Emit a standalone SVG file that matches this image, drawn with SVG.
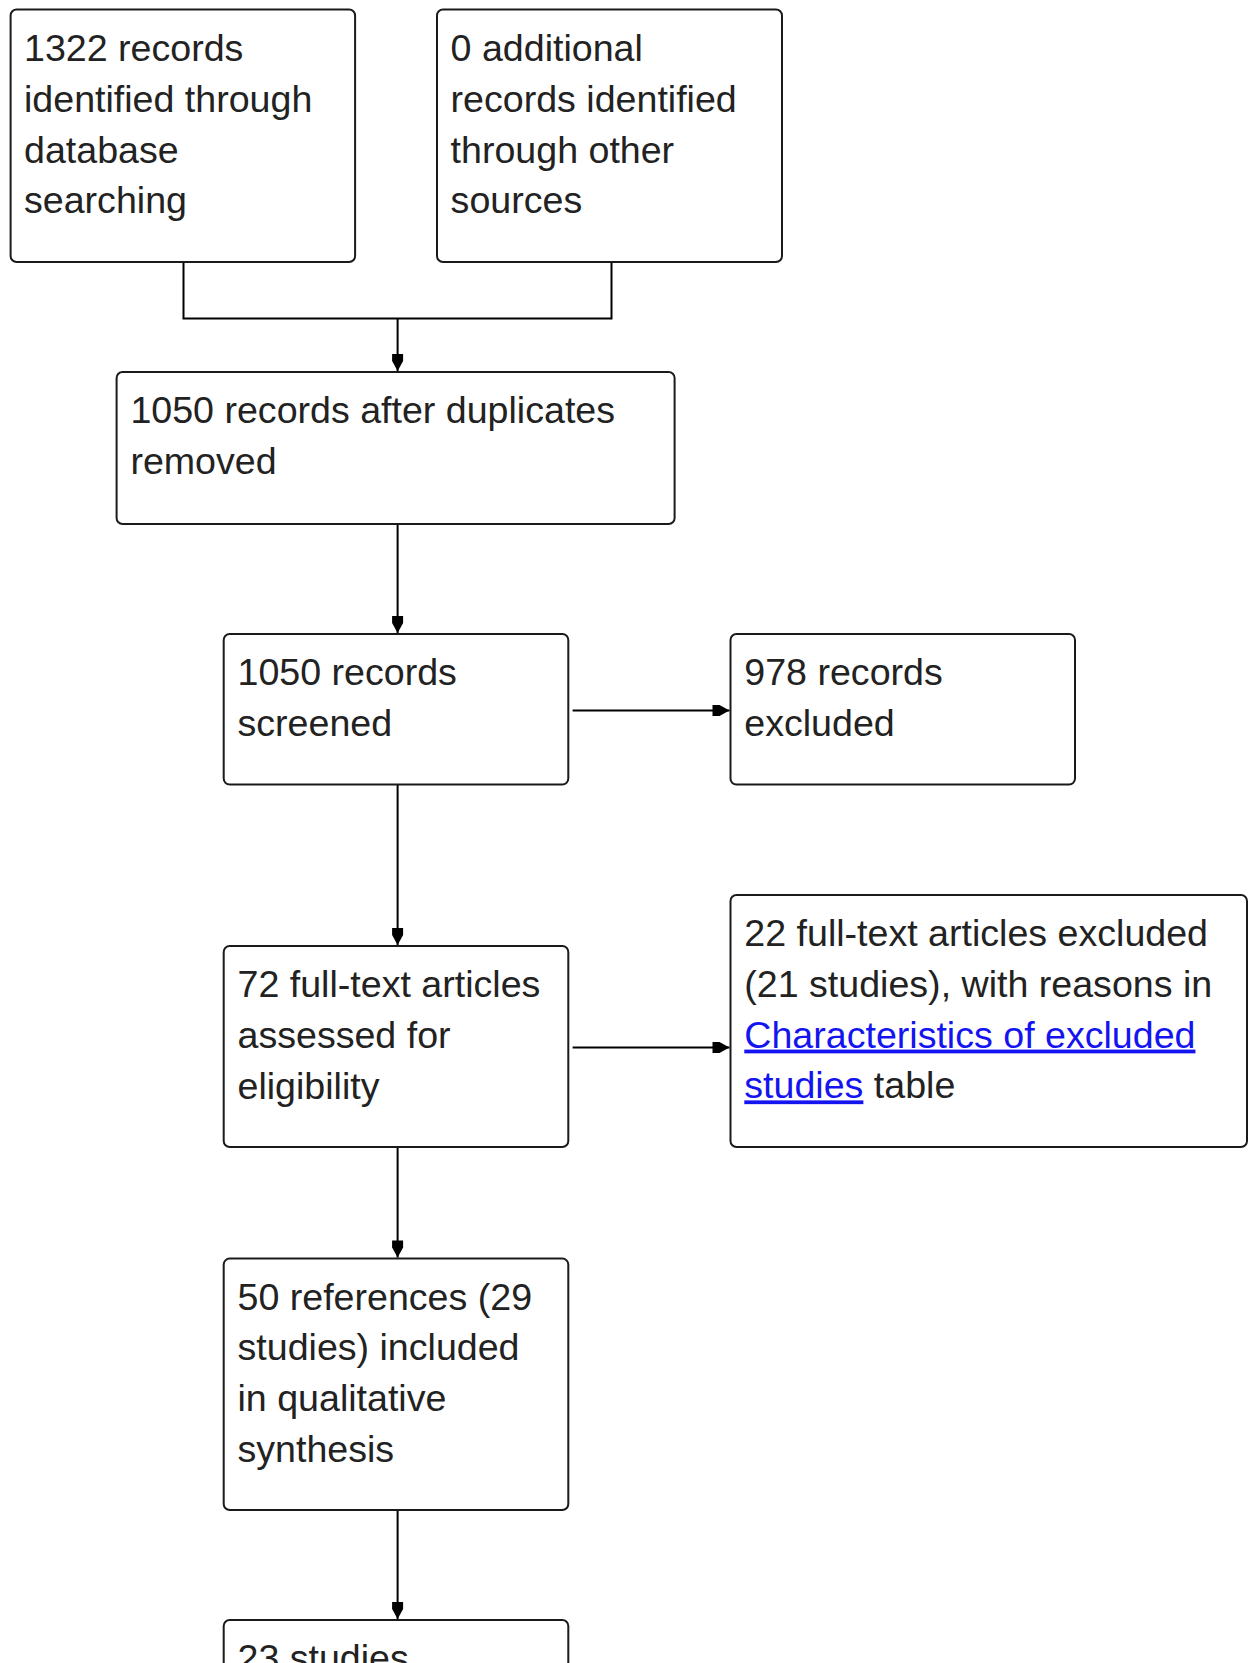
<svg xmlns="http://www.w3.org/2000/svg" width="1248" height="1663" viewBox="0 0 1248 1663">
<style>
.box{fill:#fff;stroke:#1a1a1a;stroke-width:2}
.t{font-family:"Liberation Sans",Arial,sans-serif;font-size:37.6px;fill:#222}
.link{fill:#1414f0;text-decoration:underline}
.c{fill:none;stroke:#000;stroke-width:2}
</style>
<defs>
<marker id="ah" markerUnits="userSpaceOnUse" viewBox="-18 -8 18 16" refX="0" refY="0" markerWidth="18" markerHeight="16" orient="auto">
<path d="M0,0 L-10,-5.5 L-17,-5.5 L-17,5.5 L-10,5.5 Z" fill="#000"/>
</marker>
</defs>
<rect width="1248" height="1663" fill="#fff"/>
<g id="connectors">
<path class="c" d="M183.5,262 V318.5 H611.5 V262"/>
<path class="c" d="M397.6,318.5 V371" marker-end="url(#ah)"/>
<path class="c" d="M397.6,524 V633" marker-end="url(#ah)"/>
<path class="c" d="M572.6,710.4 H729.5" marker-end="url(#ah)"/>
<path class="c" d="M397.6,784.6 V945" marker-end="url(#ah)"/>
<path class="c" d="M572.6,1047.6 H729.5" marker-end="url(#ah)"/>
<path class="c" d="M397.6,1147 V1257.6" marker-end="url(#ah)"/>
<path class="c" d="M397.6,1510 V1619" marker-end="url(#ah)"/>
</g>
<g id="n1">
<rect class="box" x="10.6" y="9.5" width="344.5" height="252.5" rx="6"/>
<text class="t"><tspan x="24" y="61">1322 records</tspan><tspan x="24" y="111.8">identified through</tspan><tspan x="24" y="162.6">database</tspan><tspan x="24" y="213.4">searching</tspan></text>
</g>
<g id="n2">
<rect class="box" x="437" y="9.5" width="345" height="252.5" rx="6"/>
<text class="t"><tspan x="450.6" y="61">0 additional</tspan><tspan x="450.6" y="111.8">records identified</tspan><tspan x="450.6" y="162.6">through other</tspan><tspan x="450.6" y="213.4">sources</tspan></text>
</g>
<g id="n3">
<rect class="box" x="116.6" y="372" width="558" height="152" rx="6"/>
<text class="t"><tspan x="130.4" y="423">1050 records after duplicates</tspan><tspan x="130.4" y="473.8">removed</tspan></text>
</g>
<g id="n4">
<rect class="box" x="223.7" y="634" width="344.6" height="150.6" rx="6"/>
<text class="t"><tspan x="237.5" y="685">1050 records</tspan><tspan x="237.5" y="735.8">screened</tspan></text>
</g>
<g id="n5">
<rect class="box" x="730.5" y="634" width="344.5" height="150.6" rx="6"/>
<text class="t"><tspan x="744.3" y="685">978 records</tspan><tspan x="744.3" y="735.8">excluded</tspan></text>
</g>
<g id="n6">
<rect class="box" x="223.7" y="946" width="344.6" height="201" rx="6"/>
<text class="t"><tspan x="237.5" y="997">72 full-text articles</tspan><tspan x="237.5" y="1047.8">assessed for</tspan><tspan x="237.5" y="1098.6">eligibility</tspan></text>
</g>
<g id="n7">
<rect class="box" x="730.5" y="895" width="516.5" height="252" rx="6"/>
<text class="t"><tspan x="744.3" y="946">22 full-text articles excluded</tspan><tspan x="744.3" y="996.8">(21 studies), with reasons in</tspan><tspan x="744.3" y="1047.6" class="link">Characteristics of excluded</tspan><tspan x="744.3" y="1098.4" class="link">studies</tspan><tspan> table</tspan></text>
</g>
<g id="n8">
<rect class="box" x="223.7" y="1258.6" width="344.6" height="251.4" rx="6"/>
<text class="t"><tspan x="237.5" y="1309.6">50 references (29</tspan><tspan x="237.5" y="1360.4">studies) included</tspan><tspan x="237.5" y="1411.2">in qualitative</tspan><tspan x="237.5" y="1462">synthesis</tspan></text>
</g>
<g id="n9">
<rect class="box" x="223.7" y="1620" width="344.6" height="250" rx="6"/>
<text class="t"><tspan x="237.5" y="1671">23 studies</tspan></text>
</g>
</svg>
